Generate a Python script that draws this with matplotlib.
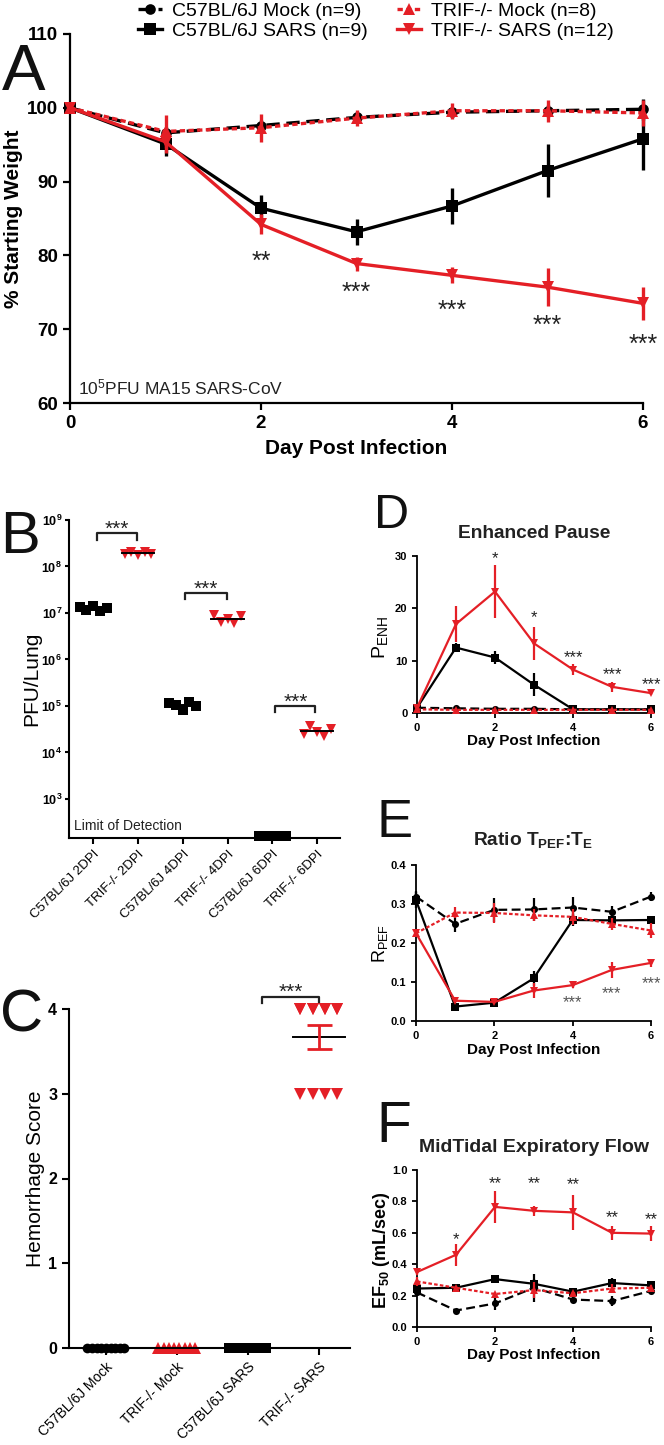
import numpy as np
import matplotlib.pyplot as plt

plt.rcParams['font.family'] = ['Liberation Sans', 'DejaVu Sans']
plt.rcParams['mathtext.fontset'] = 'custom'
plt.rcParams['mathtext.rm'] = 'Liberation Sans'
plt.rcParams['mathtext.bf'] = 'Liberation Sans:bold'
plt.rcParams['mathtext.it'] = 'Liberation Sans:italic'

RED = '#e41f26'
W, H = 664, 1445

# ---------------- data ----------------
days = [0, 1, 2, 3, 4, 5, 6]

# A: weight loss
a_c57_mock = [100, 96.6, 97.6, 98.7, 99.4, 99.6, 99.8]
a_c57_mock_err = [0.3, 0.8, 0.8, 0.7, 0.6, 0.8, 1.4]
a_trif_mock = [100, 96.8, 97.3, 98.6, 99.6, 99.6, 99.3]
a_trif_mock_err = [0.3, 2.2, 1.9, 1.1, 1.1, 1.5, 1.7]
a_c57_sars = [100, 95.1, 86.4, 83.2, 86.7, 91.5, 95.8]
a_c57_sars_err = [0.3, 1.6, 1.8, 1.8, 2.5, 3.6, 4.2]
a_trif_sars = [100, 95.4, 84.2, 78.9, 77.3, 75.7, 73.5]
a_trif_sars_err = [0.3, 1.5, 1.35, 0.95, 1.1, 2.6, 2.2]
a_stars = ['', '', '**', '***', '***', '***', '***']
a_star_y = [0, 0, 79.6, 75.4, 73.0, 70.9, 68.3]

# B: lung titer
b_labels = ['C57BL/6J 2DPI', 'TRIF-/- 2DPI', 'C57BL/6J 4DPI',
            'TRIF-/- 4DPI', 'C57BL/6J 6DPI', 'TRIF-/- 6DPI']
b_values = [
    [1.35e7, 1.15e7, 1.4e7, 1.1e7, 1.25e7],
    [1.9e8, 2.1e8, 1.75e8, 2.05e8, 1.85e8],
    [1.15e5, 1.05e5, 0.8e5, 1.2e5, 1.0e5],
    [9.0e6, 6.5e6, 7.5e6, 6.0e6, 8.5e6],
    [160, 160, 160, 160, 160],
    [2.5e4, 3.8e4, 2.8e4, 2.3e4, 3.2e4],
]
b_is_trif = [False, True, False, True, False, True]

# C: hemorrhage score
c_labels = ['C57BL/6J Mock', 'TRIF-/- Mock', 'C57BL/6J SARS', 'TRIF-/- SARS']
c_values = [
    [0] * 9,
    [0] * 8,
    [0] * 9,
    [4] * 8 + [3] * 4,
]

# D: Penh
d_c57_mock = [1.0, 0.9, 0.8, 0.8, 0.7, 0.7, 0.7]
d_c57_mock_err = [0.2, 0.2, 0.1, 0.1, 0.1, 0.1, 0.1]
d_trif_mock = [0.7, 0.6, 0.6, 0.6, 0.6, 0.6, 0.6]
d_trif_mock_err = [0.1, 0.1, 0.1, 0.1, 0.1, 0.1, 0.1]
d_c57_sars = [1.0, 12.5, 10.6, 5.4, 0.7, 0.7, 0.7]
d_c57_sars_err = [0.3, 0.8, 1.3, 2.2, 0.1, 0.1, 0.1]
d_trif_sars = [1.0, 17.0, 23.2, 13.3, 8.3, 5.0, 3.8]
d_trif_sars_err = [0.3, 3.4, 5.0, 3.2, 1.0, 1.0, 0.3]
d_stars = ['', '', '*', '*', '***', '***', '***']
d_star_y = [0, 0, 29.9, 18.7, 11.1, 7.8, 5.9]

# E: Rpef
e_c57_mock = [0.319, 0.249, 0.285, 0.286, 0.291, 0.280, 0.319]
e_c57_mock_err = [0.015, 0.02, 0.03, 0.03, 0.027, 0.015, 0.012]
e_c57_sars = [0.31, 0.037, 0.047, 0.109, 0.259, 0.258, 0.259]
e_c57_sars_err = [0.02, 0.005, 0.005, 0.02, 0.015, 0.005, 0.005]
e_trif_mock = [0.225, 0.278, 0.277, 0.271, 0.267, 0.249, 0.232]
e_trif_mock_err = [0.01, 0.015, 0.025, 0.015, 0.02, 0.015, 0.02]
e_trif_sars = [0.225, 0.052, 0.049, 0.078, 0.092, 0.131, 0.149]
e_trif_sars_err = [0.01, 0.005, 0.005, 0.02, 0.008, 0.02, 0.01]
e_stars = ['', '', '', '', '***', '***', '***']
e_star_y = [0, 0, 0, 0, 0.054, 0.077, 0.101]

# F: EF50
f_c57_mock = [0.22, 0.105, 0.15, 0.25, 0.175, 0.165, 0.23]
f_c57_mock_err = [0.02, 0.01, 0.04, 0.09, 0.02, 0.03, 0.02]
f_c57_sars = [0.245, 0.25, 0.305, 0.275, 0.225, 0.28, 0.265]
f_c57_sars_err = [0.01, 0.01, 0.02, 0.03, 0.01, 0.03, 0.02]
f_trif_mock = [0.29, 0.25, 0.21, 0.235, 0.215, 0.245, 0.25]
f_trif_mock_err = [0.03, 0.01, 0.01, 0.05, 0.01, 0.03, 0.02]
f_trif_sars = [0.35, 0.46, 0.765, 0.74, 0.73, 0.60, 0.595]
f_trif_sars_err = [0.02, 0.07, 0.10, 0.03, 0.11, 0.045, 0.05]
f_stars = ['', '*', '**', '**', '**', '**', '**']
f_star_y = [0, 0.575, 0.93, 0.93, 0.92, 0.713, 0.70]


def rect(l, t, r, b):
    return [l / W, 1 - b / H, (r - l) / W, (b - t) / H]


def prism(ax, lw, tsize, tlen):
    for s in ['top', 'right']:
        ax.spines[s].set_visible(False)
    for s in ['left', 'bottom']:
        ax.spines[s].set_linewidth(lw)
    ax.tick_params(width=lw, length=tlen, labelsize=tsize, direction='out')
    ax.minorticks_off()


def bold_ticks(ax, axis='both'):
    labs = []
    if axis in ('both', 'x'):
        labs += ax.get_xticklabels()
    if axis in ('both', 'y'):
        labs += ax.get_yticklabels()
    for lab in labs:
        lab.set_fontweight('bold')


def series(ax, y, e, color, marker, ms, lw, cap, dashes=None, label=None, z=3):
    cont = ax.errorbar(days, y, yerr=e, color=color, marker=marker, ms=ms, lw=lw,
                       capsize=cap, elinewidth=lw, capthick=lw, mew=0,
                       clip_on=False, label=label, zorder=z)
    if dashes is not None:
        cont[0].set_dashes(dashes)
    return cont[0]


def stars(ax, x, y, s, size, color='#222222'):
    ax.annotate(s, (x, y), xytext=(0, -0.42 * size), textcoords='offset points',
                ha='center', va='baseline', fontsize=size, color=color,
                annotation_clip=False)


def time_panel(ax, c57m, c57me, trm, trme, c57s, c57se, trs, trse, ms, lw, cap):
    h1 = series(ax, c57m, c57me, 'black', 'o', ms * 0.85, lw, cap, dashes=(4, 2), z=3)
    h3 = series(ax, trm, trme, RED, '^', ms, lw, cap, dashes=(1.6, 1.0), z=4)
    h2 = series(ax, c57s, c57se, 'black', 's', ms, lw, cap, z=3)
    h4 = series(ax, trs, trse, RED, 'v', ms, lw, cap, z=5)
    return h1, h2, h3, h4


fig = plt.figure(figsize=(6.64, 14.45), dpi=100)

# ---------------- A ----------------
axA = fig.add_axes(rect(70, 34, 643, 403))
hA = time_panel(axA, a_c57_mock, a_c57_mock_err, a_trif_mock, a_trif_mock_err,
                a_c57_sars, a_c57_sars_err, a_trif_sars, a_trif_sars_err,
                ms=9, lw=2.4, cap=5)
axA.set_xlim(0, 6)
axA.set_ylim(60, 110)
axA.set_xticks([0, 2, 4, 6])
axA.set_yticks([60, 70, 80, 90, 100, 110])
prism(axA, 1.6, 13.5, 5)
bold_ticks(axA)
axA.set_ylabel('% Starting Weight', fontsize=15, fontweight='bold')
axA.yaxis.set_label_coords(-0.082, 0.5)
axA.set_xlabel('Day Post Infection', fontsize=15, fontweight='bold')
axA.xaxis.set_label_coords(0.5, -0.097)
for d, s, y in zip(days, a_stars, a_star_y):
    if s:
        stars(axA, d, y, s, 18)
axA.text(0.014, 0.015, '10$^5$PFU MA15 SARS-CoV', transform=axA.transAxes,
         fontsize=12.5, ha='left', va='bottom', color='#222222')

leg_labels = ['C57BL/6J Mock (n=9)', 'C57BL/6J SARS (n=9)',
              'TRIF-/- Mock (n=8)', 'TRIF-/- SARS (n=12)']
fig.legend([hA[0], hA[1], hA[2], hA[3]], leg_labels, ncol=2, loc='center',
           bbox_to_anchor=(376 / W, 1 - 21 / H), frameon=False, fontsize=14,
           handlelength=1.25, handletextpad=0.5, columnspacing=1.5,
           labelspacing=0.12, borderpad=0.1)

# ---------------- B ----------------
axB = fig.add_axes(rect(69, 520, 340, 838))
axB.set_yscale('log')
for i, vals in enumerate(b_values):
    off = np.linspace(-0.3, 0.3, len(vals))
    if b_is_trif[i]:
        axB.plot(i + off, vals, ls='none', marker='v', ms=7.5, color=RED, mew=0,
                 clip_on=False, zorder=3)
    else:
        axB.plot(i + off, vals, ls='none', marker='s', ms=7, color='black', mew=0,
                 clip_on=False, zorder=3)
    gm = np.exp(np.mean(np.log(vals)))
    axB.plot([i - 0.36, i + 0.36], [gm, gm], color='black', lw=1.4, zorder=4,
             clip_on=False)
axB.set_xlim(-0.54, 5.51)
axB.set_ylim(10 ** 2.16, 1e9)
axB.set_yticks([10.0 ** k for k in range(3, 10)])
axB.set_yticklabels(['$\\mathbf{10^{%d}}$' % k for k in range(3, 10)])
axB.set_xticks(range(len(b_labels)))
axB.set_xticklabels(b_labels, rotation=45, ha='right', rotation_mode='anchor',
                    fontsize=9.5)
prism(axB, 1.5, 9, 4)
axB.tick_params(axis='y', pad=2, length=3)
axB.tick_params(axis='x', labelsize=9.5)
axB.set_ylabel('PFU/Lung', fontsize=15)
axB.yaxis.set_label_coords(-0.103, 0.5)
axB.text(0.02, 0.015, 'Limit of Detection', transform=axB.transAxes,
         fontsize=10, ha='left', va='bottom', color='#222222')


def bracket_log(ax, x0, x1, ytop, legdec, sdec, size):
    ylo = ytop / 10 ** legdec
    ax.plot([x0, x0, x1, x1], [ylo, ytop, ytop, ylo], color='#222222', lw=1.6,
            clip_on=False)
    stars(ax, (x0 + x1) / 2, ytop * 10 ** sdec, '***', size)


bracket_log(axB, 0.08, 0.98, 10 ** 8.72, 0.16, 0.14, 15)
bracket_log(axB, 2.06, 2.98, 10 ** 7.437, 0.13, 0.14, 15)
bracket_log(axB, 4.07, 4.96, 10 ** 5.0, 0.13, 0.14, 15)

# ---------------- C ----------------
axC = fig.add_axes(rect(69, 1009, 350, 1348))
c_style = [('o', 'black', 7, 12), ('^', RED, 8, 12), ('s', 'black', 7.5, 12),
           ('v', RED, 8.5, 4)]
for i, vals in enumerate(c_values):
    mk, col, ms, ncol = c_style[i]
    vals = np.asarray(vals, dtype=float)
    xs = np.zeros(len(vals))
    for v in np.unique(vals):
        idx = np.where(vals == v)[0]
        k = min(len(idx), ncol)
        cols = np.linspace(-0.26, 0.26, k)
        xs[idx] = cols[np.arange(len(idx)) % k]
    axC.plot(i + xs, vals, ls='none', marker=mk, ms=ms, color=col, mew=0,
             clip_on=False, zorder=3)
    m = vals.mean()
    sem = vals.std(ddof=1) / np.sqrt(len(vals))
    axC.plot([i - 0.37, i + 0.37], [m, m], color='black', lw=1.4, zorder=4,
             clip_on=False)
    if sem > 0:
        axC.errorbar([i], [m], yerr=[sem], color=RED, capsize=9, elinewidth=2,
                     capthick=2, zorder=5)
axC.set_xlim(-0.52, 3.44)
axC.set_ylim(0, 4)
axC.set_yticks([0, 1, 2, 3, 4])
axC.set_xticks(range(len(c_labels)))
axC.set_xticklabels(c_labels, rotation=45, ha='right', rotation_mode='anchor')
prism(axC, 1.5, 11.5, 5)
axC.tick_params(axis='x', labelsize=10)
bold_ticks(axC, 'y')
axC.set_ylabel('Hemorrhage Score', fontsize=15)
axC.yaxis.set_label_coords(-0.085, 0.5)
axC.plot([2.2, 2.2, 3.0, 3.0], [4.07, 4.14, 4.14, 4.07], color='#222222', lw=1.6,
         clip_on=False)
stars(axC, 2.6, 4.23, '***', 15)

# ---------------- D ----------------
axD = fig.add_axes(rect(417, 556, 651, 713))
time_panel(axD, d_c57_mock, d_c57_mock_err, d_trif_mock, d_trif_mock_err,
           d_c57_sars, d_c57_sars_err, d_trif_sars, d_trif_sars_err,
           ms=6, lw=1.6, cap=3.5)
axD.set_xlim(0, 6)
axD.set_ylim(0, 30)
axD.set_xticks([0, 2, 4, 6])
axD.set_yticks([0, 10, 20, 30])
prism(axD, 1.3, 8, 3.5)
bold_ticks(axD)
axD.set_ylabel('P$_{\\mathrm{ENH}}$', fontsize=14)
axD.yaxis.set_label_coords(-0.115, 0.48)
axD.set_xlabel('Day Post Infection', fontsize=11, fontweight='bold')
axD.xaxis.set_label_coords(0.5, -0.134)
axD.text(0.5, 1.146, 'Enhanced Pause', transform=axD.transAxes, fontsize=13.8,
         fontweight='bold', ha='center', va='center', color='#222222')
for d, s, y in zip(days, d_stars, d_star_y):
    if s:
        stars(axD, d, y, s, 12)

# ---------------- E ----------------
axE = fig.add_axes(rect(416, 865, 651, 1021))
time_panel(axE, e_c57_mock, e_c57_mock_err, e_trif_mock, e_trif_mock_err,
           e_c57_sars, e_c57_sars_err, e_trif_sars, e_trif_sars_err,
           ms=6, lw=1.6, cap=3.5)
axE.set_xlim(0, 6)
axE.set_ylim(0, 0.4)
axE.set_xticks([0, 2, 4, 6])
axE.set_yticks([0.0, 0.1, 0.2, 0.3, 0.4])
prism(axE, 1.3, 8, 3.5)
bold_ticks(axE)
axE.set_ylabel('R$_{\\mathrm{PEF}}$', fontsize=13)
axE.yaxis.set_label_coords(-0.11, 0.5)
axE.set_xlabel('Day Post Infection', fontsize=11, fontweight='bold')
axE.xaxis.set_label_coords(0.5, -0.141)
axE.text(0.5, 1.16, 'Ratio T$_{\\mathbf{PEF}}$:T$_{\\mathbf{E}}$', transform=axE.transAxes,
         fontsize=13.8, fontweight='bold', ha='center', va='center', color='#222222')
for d, s, y in zip(days, e_stars, e_star_y):
    if s:
        stars(axE, d, y, s, 12, color='#555555')

# ---------------- F ----------------
axF = fig.add_axes(rect(417, 1170, 651, 1327))
time_panel(axF, f_c57_mock, f_c57_mock_err, f_trif_mock, f_trif_mock_err,
           f_c57_sars, f_c57_sars_err, f_trif_sars, f_trif_sars_err,
           ms=6, lw=1.6, cap=3.5)
axF.set_xlim(0, 6)
axF.set_ylim(0, 1.0)
axF.set_xticks([0, 2, 4, 6])
axF.set_yticks([0.0, 0.2, 0.4, 0.6, 0.8, 1.0])
prism(axF, 1.3, 8, 3.5)
bold_ticks(axF)
axF.set_ylabel('EF$_{\\mathbf{50}}$ (mL/sec)', fontsize=13, fontweight='bold')
axF.yaxis.set_label_coords(-0.107, 0.49)
axF.set_xlabel('Day Post Infection', fontsize=11, fontweight='bold')
axF.xaxis.set_label_coords(0.5, -0.134)
axF.text(0.5, 1.146, 'MidTidal Expiratory Flow', transform=axF.transAxes,
         fontsize=14, fontweight='bold', ha='center', va='center', color='#222222')
for d, s, y in zip(days, f_stars, f_star_y):
    if s:
        stars(axF, d, y, s, 12)

# ---------------- panel letters ----------------
for letter, x, base, size in [('A', 2, 90, 47), ('B', 0, 553, 43), ('C', 0, 1031, 43),
                              ('D', 374, 528, 35), ('E', 376, 837, 39),
                              ('F', 376, 1142, 41)]:
    fig.text(x / W, 1 - base / H, letter, fontsize=size, ha='left', va='baseline',
             color='#111111')

fig.savefig('out.png', dpi=100)
